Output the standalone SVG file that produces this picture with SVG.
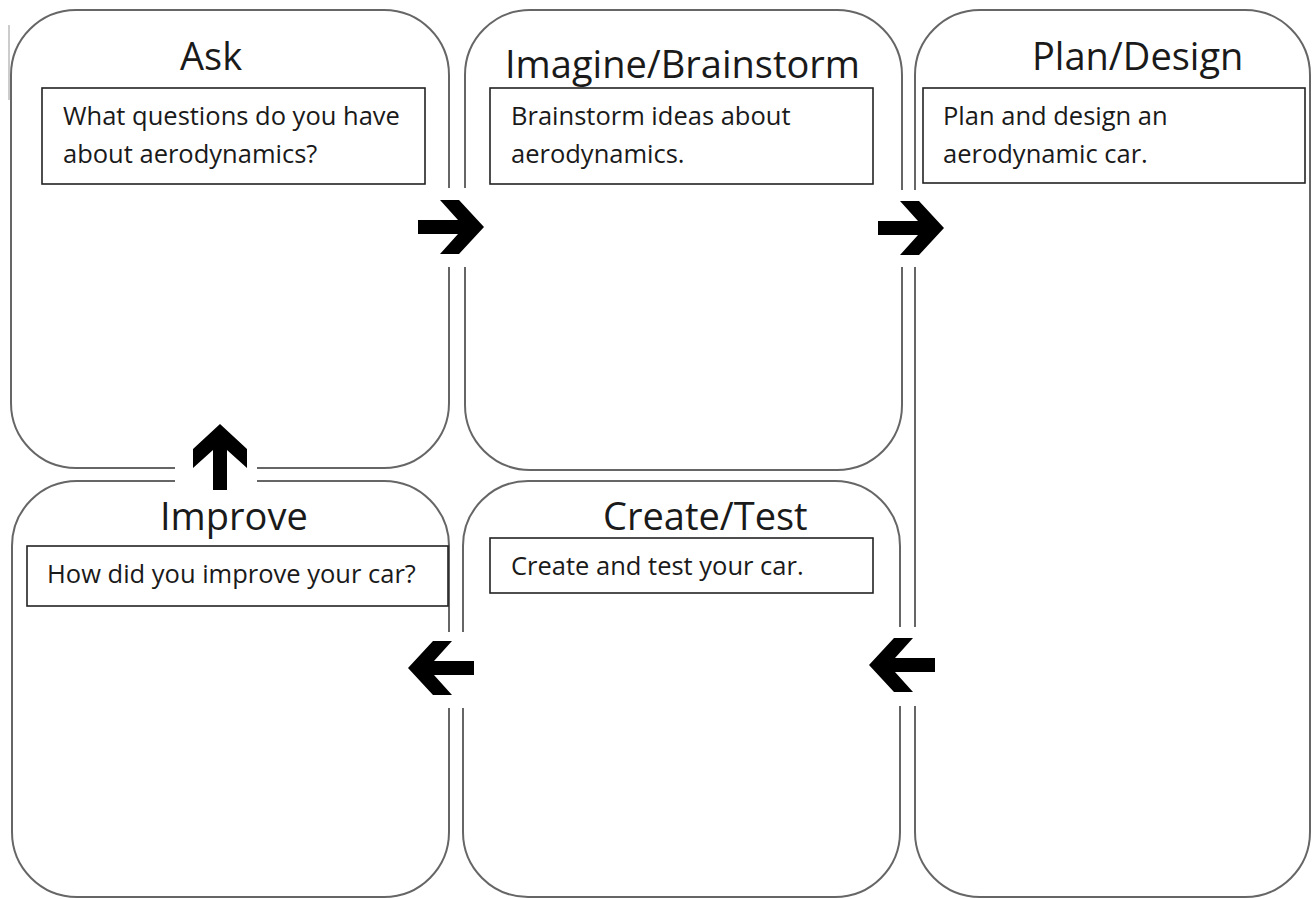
<svg xmlns="http://www.w3.org/2000/svg" xmlns:xlink="http://www.w3.org/1999/xlink" width="1313" height="899" viewBox="0 0 1313 899">
  <style>
    .panel { fill: #ffffff; stroke: #666666; stroke-width: 2; }
    .box { fill: #ffffff; stroke: #222222; stroke-width: 1.6; }
    .title { font-family: "Open Sans", "Liberation Sans", sans-serif; font-size: 38px; fill: #1a1a1a; }
    .body { font-family: "Open Sans", "Liberation Sans", sans-serif; font-size: 25.5px; fill: #1a1a1a; }
    .gap { fill: #ffffff; stroke: none; }
    .arrow { fill: #000000; stroke: none; }
  </style>
  <defs>
    <polygon id="arrowR" points="-33,-7 7,-7 -11,-27 8,-27 33,0 8,27 -11,27 7,7 -33,7"/>
  </defs>
  <rect width="1313" height="899" fill="#ffffff"/>
  <line x1="9" y1="25" x2="9" y2="100" stroke="#bbbbbb" stroke-width="1.5"/>

  <g id="node-ask">
    <rect class="panel" x="11" y="10" width="438" height="458" rx="65" ry="65"/>
    <text class="title" x="180" y="70">Ask</text>
    <rect class="box" x="42" y="88" width="383" height="96"/>
    <text class="body" x="63" y="125">What questions do you have</text>
    <text class="body" x="63" y="163">about aerodynamics?</text>
  </g>

  <g id="node-imagine">
    <rect class="panel" x="465" y="10" width="437" height="460" rx="65" ry="65"/>
    <text class="title" x="505" y="78">Imagine/Brainstorm</text>
    <rect class="box" x="490" y="88" width="383" height="96"/>
    <text class="body" x="511" y="125">Brainstorm ideas about</text>
    <text class="body" x="511" y="163">aerodynamics.</text>
  </g>

  <g id="node-plan">
    <rect class="panel" x="915" y="10" width="395" height="887" rx="65" ry="65"/>
    <text class="title" x="1032" y="70">Plan/Design</text>
    <rect class="box" x="923" y="88" width="382" height="95"/>
    <text class="body" x="943" y="125">Plan and design an</text>
    <text class="body" x="943" y="163">aerodynamic car.</text>
  </g>

  <g id="node-improve">
    <rect class="panel" x="12" y="481" width="437" height="416" rx="65" ry="65"/>
    <text class="title" x="160" y="530">Improve</text>
    <rect class="box" x="27" y="546" width="421" height="60"/>
    <text class="body" x="47" y="583">How did you improve your car?</text>
  </g>

  <g id="node-create">
    <rect class="panel" x="463" y="481" width="437" height="416" rx="65" ry="65"/>
    <text class="title" x="603" y="530">Create/Test</text>
    <rect class="box" x="490" y="538" width="383" height="55"/>
    <text class="body" x="511" y="575">Create and test your car.</text>
  </g>

  <g id="connectors">
    <rect class="gap" x="440" y="188" width="35" height="79"/>
    <rect class="gap" x="894" y="190" width="29" height="77"/>
    <rect class="gap" x="893" y="627" width="30" height="79"/>
    <rect class="gap" x="442" y="632" width="28" height="76"/>
    <rect class="gap" x="175" y="461" width="82" height="27"/>
    <use xlink:href="#arrowR" class="arrow" transform="translate(451,227)"/>
    <use xlink:href="#arrowR" class="arrow" transform="translate(911,228)"/>
    <use xlink:href="#arrowR" class="arrow" transform="translate(902,665) rotate(180)"/>
    <use xlink:href="#arrowR" class="arrow" transform="translate(441,668) rotate(180)"/>
    <use xlink:href="#arrowR" class="arrow" transform="translate(220,457) rotate(-90)"/>
  </g>
</svg>
